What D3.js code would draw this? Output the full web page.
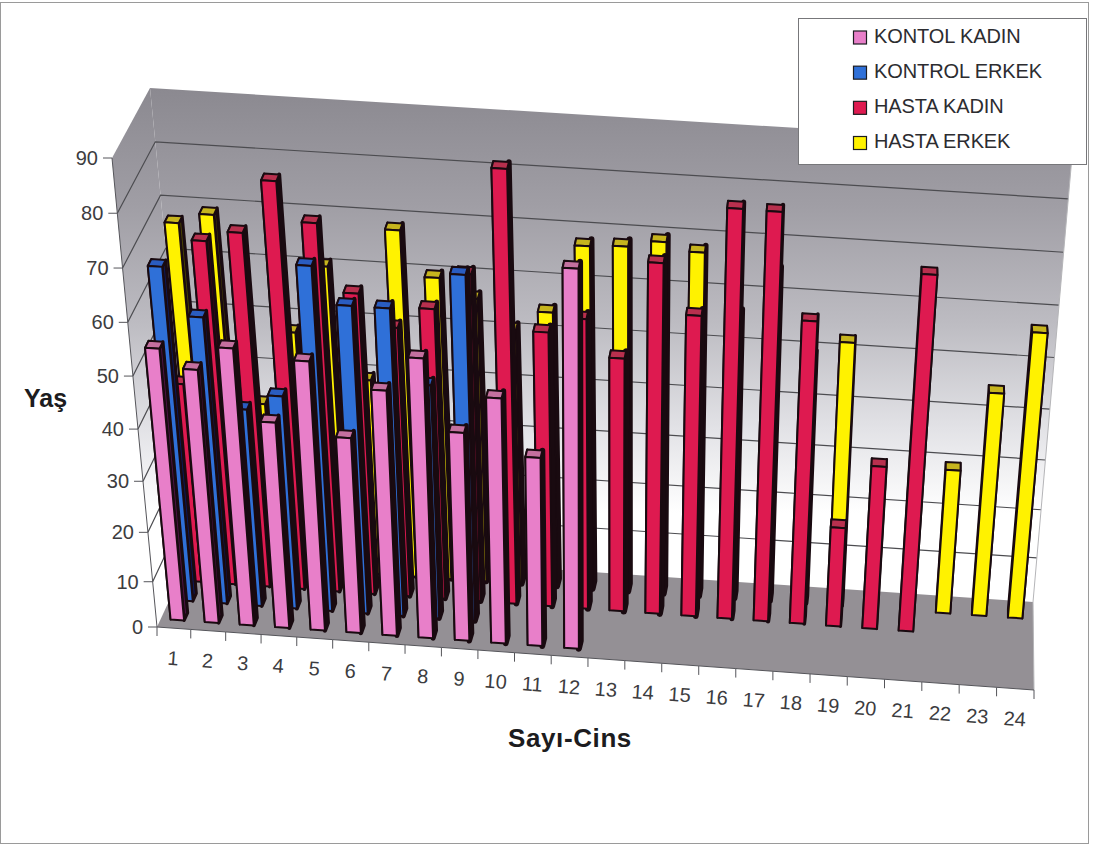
<!DOCTYPE html>
<html>
<head>
<meta charset="utf-8">
<script src="https://cdnjs.cloudflare.com/ajax/libs/d3/7.8.5/d3.min.js"></script>
<style>
html,body{margin:0;padding:0;background:#fff}
svg{display:block}
text{font-family:"Liberation Sans",Arial,sans-serif}
</style>
</head>
<body>
<svg id="chart" width="1093" height="845"></svg>
<script>
// Age values per person number; null where the group has no such person.
const categories = d3.range(1, 25).map(String);
const kontolKadin = [54, 50.5, 55, 41.5, 53.5, 39.5, 49, 55.5, 42, 49, 38.2, 74, null, null, null, null, null, null, null, null, null, null, null, null];
const kontrolErkek = [66, 57, 40, 43, 68, 61, 61, 47, 68.2, null, null, null, null, null, null, null, null, null, null, null, null, null, null, null];
const hastaKadin = [40.5, 68, 70, 80, 72.7, 60, 54, 58, 65, 85, 55, 58, 51, 69.4, 60, 80.4, 80.3, 60.4, 21, 33.6, 70.5, null, null, null];
const hastaErkek = [67.7, 69.7, 34, 48.3, 61.3, 40, 69, 60.5, 57, 51.5, 55.3, 68.3, 68.7, 70, 68.5, 57, 65.5, 50, 53.3, null, null, 30, 45.5, 57.5];
const seriesNames = ["KONTOL KADIN", "KONTROL ERKEK", "HASTA KADIN", "HASTA ERKEK"];
const seriesValues = [kontolKadin, kontrolErkek, hastaKadin, hastaErkek];
const valueTicks = d3.range(0, 100, 10);

const palette = [
  {front: "#e87fc9", top: "#c4709f", side: "#4e1446"},
  {front: "#2f70d8", top: "#2a5cc0", side: "#0c1a5c"},
  {front: "#de1a50", top: "#b8304e", side: "#4a0616"},
  {front: "#fff200", top: "#c6b41e", side: "#4a4400"}
];

const svg = d3.select("#chart");

// Eight corners of the plot box; a point inside is blended between them.
const box = {
  fbl: [157, 627], fbr: [1034, 690], bbl: [195, 545], bbr: [1033, 602],
  ftl: [112, 158], ftr: [1083, 221], btl: [150, 88],  btr: [1073, 145]
};
// Categories bunch up slightly toward the far left end of the axis
const uWarp = d3.scalePow().exponent(1.025).domain([0, 1]).range([0, 1]);
const mix = (a, b, t) => [a[0] + (b[0] - a[0]) * t, a[1] + (b[1] - a[1]) * t];
function project(u, v, w) {
  const t = uWarp(u);
  const bottom = mix(mix(box.fbl, box.fbr, t), mix(box.bbl, box.bbr, t), v);
  const top = mix(mix(box.ftl, box.ftr, t), mix(box.btl, box.btr, t), v);
  return mix(bottom, top, w);
}

const xBand = d3.scaleBand().domain(categories).range([0, 1]).paddingInner(0.6).paddingOuter(0.3);
const zBand = d3.scaleBand().domain(seriesNames).range([0.10, 0.899]).paddingInner(0.6);
const yScale = d3.scalePow().exponent(1.064).domain([0, 90]).range([0, 1]);
const sideEdge = d3.scaleLinear().domain([0, 0.55, 0.85]).range([3, 6.5, 2]).clamp(true);
const line = d3.line();

const defs = svg.append("defs");
const wallFill = defs.append("linearGradient").attr("id", "wallFill")
  .attr("gradientUnits", "userSpaceOnUse").attr("x1", 0).attr("x2", 0).attr("y1", 88).attr("y2", 560);
[[0, "#8b8990"], [0.25, "#a09ea5"], [0.5, "#bdbcc2"], [0.72, "#e2e2e6"], [0.9, "#ffffff"], [1, "#ffffff"]]
  .forEach(([o, c]) => wallFill.append("stop").attr("offset", o).attr("stop-color", c));

// Outer frame of the chart area
svg.append("rect").attr("x", 0.5).attr("y", 2.5).attr("width", 1088).attr("height", 841)
  .attr("fill", "#fff").attr("stroke", "#9a9a9a");

// Walls and floor
const poly = (pts, fill) => svg.append("path").attr("d", line(pts) + "Z").attr("fill", fill);
poly([project(0, 0, 0), project(0, 1, 0), project(0, 1, 1), project(0, 0, 1)], "url(#wallFill)");
poly([project(0, 1, 0), project(1, 1, 0), project(1, 1, 1), project(0, 1, 1)], "url(#wallFill)");
poly([project(0, 0, 0), project(1, 0, 0), project(1, 1, 0), project(0, 1, 0)], "#949095");

// Gridlines on both walls
const grid = svg.append("g").attr("fill", "none").attr("stroke", "#4c4c50").attr("stroke-width", 1.2);
valueTicks.filter(t => t > 0 && t < 90).forEach(t => {
  const w = yScale(t);
  grid.append("path").attr("d", line([project(0, 0, w), project(0, 1, w), project(1, 1, w)]));
});
svg.append("path").attr("d", line([project(1, 0, 0), project(1, 1, 0), project(1, 1, 1)]))
  .attr("fill", "none").attr("stroke", "#b5b5b8");

// Value axis with ticks and labels
const axisColor = "#55555a";
svg.append("path").attr("d", line([project(0, 0, 0), project(0, 0, 1)])).attr("fill", "none").attr("stroke", axisColor);
valueTicks.forEach(t => {
  const p = project(0, 0, yScale(t));
  svg.append("line").attr("x1", p[0] - 9).attr("x2", p[0]).attr("y1", p[1]).attr("y2", p[1]).attr("stroke", axisColor);
  svg.append("text").attr("x", p[0] - 14).attr("y", p[1] + 7).attr("text-anchor", "end")
    .attr("font-size", 20).attr("fill", "#3c3c40").text(t);
});

// Category axis with ticks and labels
const uTick = d3.scaleLinear().domain([0, 24]).range([0, 1]);
svg.append("path").attr("d", line(d3.range(0, 25).map(i => project(uTick(i), 0, 0)))).attr("fill", "none").attr("stroke", axisColor);
d3.range(0, 25).forEach(i => {
  const p = project(uTick(i), 0, 0);
  svg.append("line").attr("x1", p[0]).attr("x2", p[0]).attr("y1", p[1]).attr("y2", p[1] + 9).attr("stroke", axisColor);
});
categories.forEach((c, i) => {
  const p = project(uTick(i + 0.5), 0, 0);
  svg.append("text").attr("transform", `translate(${p[0] - 1},${p[1] + 37}) rotate(4)`)
    .attr("text-anchor", "middle").attr("font-size", 20).attr("fill", "#3c3c40").text(c);
});

// Bars: rear row first, each bar as side, cap and front faces
const barsLayer = svg.append("g").attr("stroke", "#190a10").attr("stroke-width", 2).attr("stroke-linejoin", "round");
d3.range(3, -1, -1).forEach(s => {
  const z0 = zBand(seriesNames[s]), dz = zBand.bandwidth(), colors = palette[s];
  categories.forEach((c, i) => {
    const value = seriesValues[s][i];
    if (value == null) return;
    const u0 = xBand(c), u1 = u0 + xBand.bandwidth(), z1 = z0 + dz, w = yScale(value);
    const face = (pts, fill) => barsLayer.append("path").attr("d", line(pts) + "Z").attr("fill", fill);
    face([project(u0, z0, 0), project(u0, z1, 0), project(u0, z1, w), project(u0, z0, w)], colors.side);
    face([project(u1, z0, 0), project(u1, z1, 0), project(u1, z1, w), project(u1, z0, w)], colors.side)
      .attr("stroke-width", sideEdge(u1));
    face([project(u0, z0, w), project(u1, z0, w), project(u1, z1, w), project(u0, z1, w)], colors.top);
    face([project(u0, z0, 0), project(u1, z0, 0), project(u1, z0, w), project(u0, z0, w)], colors.front);
  });
});

// Axis titles
svg.append("text").attr("x", 24).attr("y", 407).attr("font-size", 25).attr("font-weight", "bold")
  .attr("fill", "#1c1c20").text("Yaş");
svg.append("text").attr("x", 570).attr("y", 747).attr("text-anchor", "middle").attr("font-size", 26)
  .attr("letter-spacing", 0.6).attr("font-weight", "bold").attr("fill", "#1c1c20").text("Sayı-Cins");

// Legend box
const legend = svg.append("g");
legend.append("rect").attr("x", 798.5).attr("y", 18.5).attr("width", 288).attr("height", 146)
  .attr("fill", "#fff").attr("stroke", "#77777a");
const legendY = d3.scalePoint().domain(seriesNames).range([37.5, 143]);
seriesNames.forEach((name, s) => {
  const y = legendY(name);
  legend.append("rect").attr("x", 853.5).attr("y", y - 6.5).attr("width", 13).attr("height", 13)
    .attr("fill", palette[s].front).attr("stroke", "#1c1c20").attr("stroke-width", 1.2);
  legend.append("text").attr("x", 874).attr("y", y + 5).attr("font-size", 20)
    .attr("letter-spacing", -0.1).attr("fill", "#2c2c30").text(name);
});
</script>
</body>
</html>
